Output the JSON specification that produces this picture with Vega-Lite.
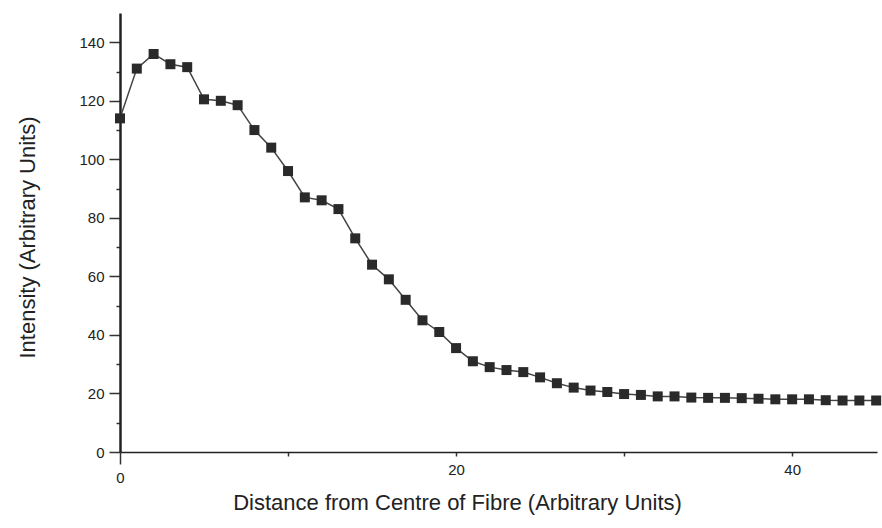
{
  "$schema": "https://vega.github.io/schema/vega-lite/v6.json",
  "width": 757,
  "height": 439,
  "autosize": {"type": "none"},
  "padding": {"left": 120, "top": 13, "right": 5, "bottom": 76},
  "background": "white",
  "config": {
    "view": {"stroke": null},
    "font": "Liberation Sans",
    "axis": {"grid": false, "labelFont": "Liberation Sans", "titleFont": "Liberation Sans", "labelColor": "#222", "titleColor": "#222", "titleFontWeight": "normal", "domainColor": "#222", "tickColor": "#333"}
  },
  "data": {
    "values": [
      {"d": 0, "i": 114}, {"d": 1, "i": 131}, {"d": 2, "i": 136}, {"d": 3, "i": 132.5},
      {"d": 4, "i": 131.5}, {"d": 5, "i": 120.5}, {"d": 6, "i": 120}, {"d": 7, "i": 118.5},
      {"d": 8, "i": 110}, {"d": 9, "i": 104}, {"d": 10, "i": 96}, {"d": 11, "i": 87},
      {"d": 12, "i": 86}, {"d": 13, "i": 83}, {"d": 14, "i": 73}, {"d": 15, "i": 64},
      {"d": 16, "i": 59}, {"d": 17, "i": 52}, {"d": 18, "i": 45}, {"d": 19, "i": 41},
      {"d": 20, "i": 35.5}, {"d": 21, "i": 31}, {"d": 22, "i": 29}, {"d": 23, "i": 28},
      {"d": 24, "i": 27.3}, {"d": 25, "i": 25.5}, {"d": 26, "i": 23.5}, {"d": 27, "i": 22},
      {"d": 28, "i": 21}, {"d": 29, "i": 20.5}, {"d": 30, "i": 19.8}, {"d": 31, "i": 19.5},
      {"d": 32, "i": 19}, {"d": 33, "i": 19}, {"d": 34, "i": 18.6}, {"d": 35, "i": 18.5},
      {"d": 36, "i": 18.5}, {"d": 37, "i": 18.4}, {"d": 38, "i": 18.2}, {"d": 39, "i": 18},
      {"d": 40, "i": 18}, {"d": 41, "i": 18}, {"d": 42, "i": 17.7}, {"d": 43, "i": 17.6},
      {"d": 44, "i": 17.6}, {"d": 45, "i": 17.6}
    ]
  },
  "encoding": {
    "x": {
      "field": "d", "type": "quantitative",
      "scale": {"domain": [0, 45.05], "nice": false, "zero": false},
      "axis": {
        "title": "Distance from Centre of Fibre (Arbitrary Units)",
        "values": [0, 10, 20, 30, 40],
        "labelExpr": "datum.value % 20 === 0 ? datum.label : ''",
        "labelFlush": false,
        "labelFontSize": 15,
        "labelPadding": 6,
        "tickSize": {"condition": {"test": "datum.value === 0", "value": 12}, "value": 4},
        "tickWidth": 1.5,
        "domainWidth": 1.5,
        "titleFontSize": 22,
        "titleX": 337,
        "titleY": 57,
        "titleAlign": "center",
        "titleBaseline": "alphabetic",
        "titleAnchor": null
      }
    },
    "y": {
      "field": "i", "type": "quantitative",
      "scale": {"domain": [0, 150], "nice": false},
      "axis": {
        "title": "Intensity (Arbitrary Units)",
        "values": [0, 10, 20, 30, 40, 50, 60, 70, 80, 90, 100, 110, 120, 130, 140],
        "labelExpr": "datum.value % 20 === 0 ? datum.label : ''",
        "labelFlush": false,
        "labelFontSize": 15,
        "labelPadding": 5,
        "tickSize": {"condition": {"test": "datum.value % 20 === 0", "value": 11}, "value": 4},
        "tickWidth": 1.5,
        "domainWidth": 2.5,
        "titleFontSize": 22,
        "titleX": -86,
        "titleY": 224,
        "titleAngle": -90,
        "titleAlign": "center",
        "titleBaseline": "alphabetic"
      }
    }
  },
  "layer": [
    {"mark": {"type": "line", "color": "#444", "strokeWidth": 1.5}},
    {"mark": {"type": "point", "shape": "square", "filled": true, "size": 100, "color": "#2a2a2a", "opacity": 1}}
  ]
}
